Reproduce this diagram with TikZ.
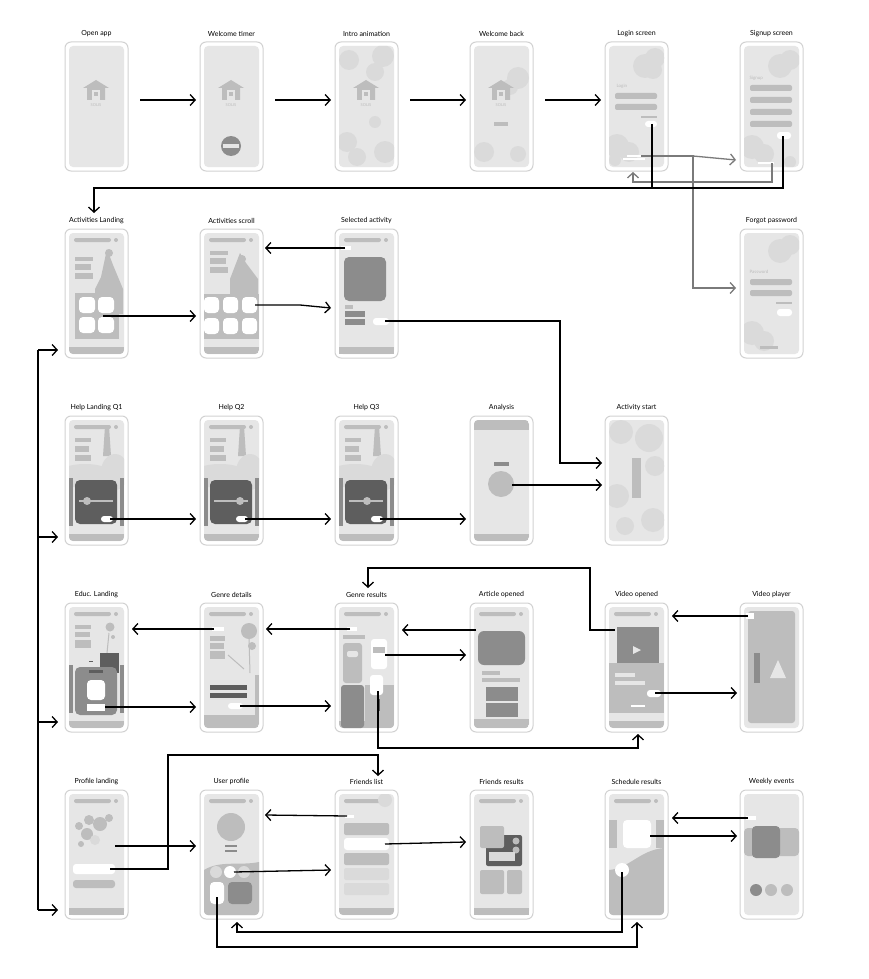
\documentclass[tikz,border=0pt]{standalone}
\usepackage{fontspec}
\setmainfont{Lato}
\usetikzlibrary{arrows.meta}
\definecolor{frm}{HTML}{D2D2D2}
\definecolor{scr}{HTML}{E6E6E6}
\definecolor{lt}{HTML}{DADADA}
\definecolor{md}{HTML}{BDBDBD}
\definecolor{dk}{HTML}{8C8C8C}
\definecolor{dd}{HTML}{5E5E5E}
\definecolor{ga}{HTML}{7A7A7A}
\tikzset{
 phone/.style={draw=frm,line width=1pt,fill=white,rounded corners=6pt,minimum width=63pt,minimum height=129pt,inner sep=0},
 ttl/.style={font=\fontsize{7}{8}\selectfont},
 arr/.style={draw=black,line width=1.3pt,-{Straight Barb[length=5pt,width=11pt,line width=1.3pt]}},
 garr/.style={draw=ga,line width=1.3pt,-{Straight Barb[length=5pt,width=11pt,line width=1.3pt]}},
 bar/.style={fill=md,rounded corners=2pt},
 wb/.style={fill=white,rounded corners=3pt},
}
\newcommand\phone[4]{%
 \node[phone] (#1) at ({#2+31.5},{#3+64.5}) {};
 \fill[scr,rounded corners=4pt] ({#2+4},{#3+4}) rectangle ({#2+59},{#3+125});
 \node[ttl] at ({#2+31.5},{#3-8}) {#4};}
\newcommand\scrclip{\clip[rounded corners=4pt] (4,4) rectangle (59,125);}
\newcommand\topbar{\fill[md,rounded corners=2pt] (9,9) rectangle (46,13); \fill[md] (51,11) circle (2);
 \fill[md] (4,118) rectangle (59,125);}
\newcommand\temple{\fill[md] (18,46)--(31,38)--(44,46)--(40,46)--(40,58)--(22,58)--(22,46)--cycle;
 \fill[scr] (27,48) rectangle (35,58); \fill[md] (29,50) rectangle (33,54);
 \node[font=\fontsize{4}{4}\selectfont,text=md] at (31,63) {SOLIS};}
\begin{document}
\begin{tikzpicture}[x=1pt,y=-1pt]
\useasboundingbox (0,0) rectangle (868,979);
\fill[white] (0,0) rectangle (868,979);
% ---------- Row 1
\phone{a1}{65}{42}{Open app}
\begin{scope}[shift={(65,42)}]\temple\end{scope}
\phone{a2}{200}{42}{Welcome timer}
\begin{scope}[shift={(200,42)}]\temple\fill[dk] (31,104) circle (10); \fill[scr] (23,102) rectangle (39,106);\end{scope}
\phone{a3}{335}{42}{Intro animation}
\begin{scope}[shift={(335,42)}]\scrclip
 \fill[lt] (14,18) circle (10); \fill[lt] (48,14) circle (11); \fill[lt] (40,30) circle (9);
 \fill[lt] (12,100) circle (10); \fill[lt] (22,115) circle (9); \fill[lt] (50,110) circle (11); \fill[lt] (40,80) circle (6);
 \temple\end{scope}
\phone{a4}{470}{42}{Welcome back}
\begin{scope}[shift={(470,42)}]\scrclip
 \fill[lt] (48,36) circle (11); \fill[lt] (40,45) circle (8); \fill[lt] (14,110) circle (10); \fill[lt] (48,112) circle (8);
 \temple \fill[md] (24,80) rectangle (38,84);\end{scope}
\phone{a5}{605}{42}{Login screen}
\begin{scope}[shift={(605,42)}]
 \coordinate (lgBtn) at (47,82); \coordinate (lgS) at (36,114);
 \scrclip
 \fill[lt] (40,24) circle (12); \fill[lt] (50,16) circle (10); \fill[lt] (48,28) circle (9);
 \fill[lt] (12,104) circle (12); \fill[lt] (24,110) circle (10); \fill[lt] (10,118) circle (6);
 \node[font=\fontsize{4.5}{5}\selectfont,text=md,anchor=west] at (8,44) {Login};
 \fill[bar] (10,51) rectangle (52,57); \fill[bar] (10,62) rectangle (52,68);
 \fill[md] (36,74) rectangle (52,76);
 \fill[wb] (40,79) rectangle (52,85);
 \fill[white] (22,113) rectangle (38,115); \fill[white] (18,116) rectangle (40,118);
\end{scope}
\phone{a6}{740}{42}{Signup screen}
\begin{scope}[shift={(740,42)}]
 \coordinate (sgBtn) at (43,94); \coordinate (sgL) at (32,121);
 \scrclip
 \fill[lt] (40,24) circle (12); \fill[lt] (50,18) circle (10);
 \fill[lt] (12,105) circle (12); \fill[lt] (24,112) circle (10); \fill[lt] (50,120) circle (6);
 \node[font=\fontsize{4.5}{5}\selectfont,text=md,anchor=west] at (6,36) {Signup};
 \fill[bar] (10,43) rectangle (52,49); \fill[bar] (10,55) rectangle (52,61);\fill[bar] (10,67) rectangle (52,73);\fill[bar] (10,79) rectangle (52,85);
 \fill[wb] (37,90) rectangle (51,97);
 \fill[white] (18,120) rectangle (34,122);
\end{scope}
% ---------- Row 2
\phone{b1}{65}{229}{Activities Landing}
\begin{scope}[shift={(65,229)}]\scrclip\topbar
 \fill[md] (10,28) rectangle (28,32);\fill[md] (10,35) rectangle (26,41);\fill[md] (10,44) rectangle (28,50);
 \fill[md] (42,20)--(48,36)--(58,60)--(58,85)--(30,85)--(30,60)--(36,48)--cycle; \fill[md] (44,24) circle (4);
 \fill[md] (10,64) rectangle (54,110);
 \fill[white,rounded corners=4pt] (14,68) rectangle (30,84);\fill[white,rounded corners=4pt] (33,68) rectangle (49,84);\fill[white,rounded corners=4pt] (14,88) rectangle (30,104);\fill[white,rounded corners=4pt] (33,88) rectangle (49,104);
\end{scope}
\phone{b2}{200}{229}{Activities scroll}
\begin{scope}[shift={(200,229)}]\scrclip\topbar
 \fill[md] (10,22) rectangle (28,26);\fill[md] (10,29) rectangle (26,35);\fill[md] (10,38) rectangle (28,44);
 \fill[md] (40,24)--(46,34)--(58,50)--(58,65)--(30,65)--(30,50)--cycle; \fill[md] (42,30) circle (4);
 \fill[md] (4,65) rectangle (59,110);
 \foreach \i in {0,1,2} \foreach \j in {0,1} \fill[white,rounded corners=4pt] ({4+\i*19},{68+\j*21}) rectangle ({19+\i*19},{84+\j*21});
 \coordinate (asS) at (55,76);
\end{scope}
\phone{b3}{335}{229}{Selected activity}
\begin{scope}[shift={(335,229)}]\topbar
 \fill[white] (6,17) rectangle (16,21);
 \fill[dk,rounded corners=5pt] (9,28) rectangle (51,72);
 \fill[md] (10,76) rectangle (18,80); \fill[dk] (10,82) rectangle (30,88); \fill[dk] (10,90) rectangle (30,96);
 \fill[wb] (38,89) rectangle (54,96);
 \coordinate (saB) at (10,19); \coordinate (saBtn) at (50,92);
\end{scope}
\phone{b6}{740}{229}{Forgot password}
\begin{scope}[shift={(740,229)}]\scrclip
 \fill[lt] (40,22) circle (12); \fill[lt] (50,16) circle (10);
 \fill[lt] (12,104) circle (12); \fill[lt] (24,112) circle (10);
 \node[font=\fontsize{4.5}{5}\selectfont,text=md,anchor=west] at (6,43) {Password};
 \fill[bar] (10,50) rectangle (52,56); \fill[bar] (10,61) rectangle (52,67);
 \fill[md] (36,73) rectangle (52,75); \fill[wb] (37,80) rectangle (52,87);
 \fill[md] (20,117) rectangle (38,120);
\end{scope}
% ---------- Row 3
\newcommand\help[1]{\topbar
 \fill[md] (10,22) rectangle (26,26);\fill[md] (10,30) rectangle (24,36);\fill[md] (10,39) rectangle (26,45);
 \fill[md] (40,10)--(44,10)--(46,40)--(38,40)--cycle; \fill[lt] (20,60) ellipse (30 and 12);\fill[lt] (50,56) ellipse (14 and 18);
 \fill[dk] (4,62) rectangle (8,110);\fill[dk] (55,62) rectangle (59,110);
 \fill[dd,rounded corners=5pt] (10,64) rectangle (52,108);
 \fill[md] (14,84) rectangle (48,86); \fill[md] (#1,85) circle (4);
 \fill[wb] (36,100) rectangle (48,106);}
\phone{c1}{65}{416}{Help Landing Q1}
\begin{scope}[shift={(65,416)}]\coordinate (h1) at (45,103);\scrclip\help{22}\end{scope}
\phone{c2}{200}{416}{Help Q2}
\begin{scope}[shift={(200,416)}]\coordinate (h2) at (45,103);\scrclip\help{40}\end{scope}
\phone{c3}{335}{416}{Help Q3}
\begin{scope}[shift={(335,416)}]\coordinate (h3) at (45,103);\scrclip\help{32}\end{scope}
\phone{c4}{470}{416}{Analysis}
\begin{scope}[shift={(470,416)}]\scrclip
 \fill[md] (4,4) rectangle (59,14); \fill[md] (4,118) rectangle (59,125);
 \fill[dk] (24,46) rectangle (39,50); \fill[md] (31,68) circle (13);
 \coordinate (anS) at (42,69);
\end{scope}
\phone{c5}{605}{416}{Activity start}
\begin{scope}[shift={(605,416)}]\scrclip
 \fill[lt] (16,16) circle (12); \fill[lt] (44,22) circle (14); \fill[lt] (50,50) circle (10);
 \fill[lt] (12,80) circle (12); \fill[lt] (48,104) circle (12); \fill[lt] (20,110) circle (9);
 \fill[md] (27,42) rectangle (36,82);
\end{scope}
% ---------- Row 4
\phone{d1}{65}{603}{Educ. Landing}
\begin{scope}[shift={(65,603)}]\coordinate (edS) at (40,104);\scrclip\topbar
 \fill[md] (10,22) rectangle (26,26);\fill[md] (10,29) rectangle (25,34);\fill[md] (10,37) rectangle (26,45);
 \draw[md,line width=1pt] (44,30)--(40,70); \fill[md] (45,24) circle (4.5); \fill[md] (48,34) circle (2);
 \fill[dd] (35,50) rectangle (54,70); \fill[dk] (4,62) rectangle (8,110); \fill[dk] (55,62) rectangle (59,110);
 \fill[dk,rounded corners=5pt] (10,64) rectangle (52,112); \fill[dd] (24,67) rectangle (38,70);
 \fill[white,rounded corners=4pt] (22,77) rectangle (40,97); \fill[white] (22,101) rectangle (40,108);
 \fill[dd] (24,58) rectangle (28,59);
\end{scope}
\phone{d2}{200}{603}{Genre details}
\begin{scope}[shift={(200,603)}]\scrclip\topbar
 \fill[white] (12,24) rectangle (24,28); \fill[md] (49,28) circle (8); \fill[md] (52,43) circle (4);
 \fill[md] (10,33) rectangle (25,38);\fill[md] (10,40) rectangle (24,46);\fill[md] (10,48) rectangle (25,56);
 \draw[md,line width=1pt] (28,52)--(44,66); \draw[md,line width=1pt] (49,36)--(50,70);
 \fill[md] (4,72) rectangle (59,118); \fill[scr] (4,72) rectangle (55,112);
 \fill[dd] (10,82) rectangle (47,87); \fill[dd] (10,90) rectangle (47,95); \fill[wb] (28,100) rectangle (43,106);
 \coordinate (gdB) at (14,26); \coordinate (gdS) at (40,103);
\end{scope}
\phone{d3}{335}{603}{Genre results}
\begin{scope}[shift={(335,603)}]\scrclip\topbar
 \fill[white] (12,24) rectangle (22,28); \fill[md] (8,32) rectangle (30,36);
 \fill[md,rounded corners=3pt] (8,40) rectangle (27,80); \fill[scr,rounded corners=2pt] (12,48) rectangle (23,54);
 \fill[white,rounded corners=3pt] (36,36) rectangle (52,66); \fill[md] (38,44) rectangle (50,50);
 \fill[dk,rounded corners=3pt] (6,82) rectangle (29,125); \fill[md] (30,82) rectangle (59,125);
 \fill[white,rounded corners=3pt] (35,72) rectangle (48,92); \draw[dd] (44,96)--(44,108);
 \coordinate (grB) at (15,26); \coordinate (grS) at (50,52); \coordinate (grD) at (43,88);
\end{scope}
\phone{d4}{470}{603}{Article opened}
\begin{scope}[shift={(470,603)}]\coordinate (arS) at (6,27);\scrclip\topbar
 \fill[dk,rounded corners=6pt] (8,28) rectangle (55,62); \fill[md] (12,68) rectangle (30,72);\fill[md] (12,75) rectangle (50,79);
 \fill[dk] (16,84) rectangle (48,98); \fill[dk] (16,100) rectangle (48,114);\fill[md] (4,116) rectangle (59,125);
\end{scope}
\phone{d5}{605}{603}{Video opened}
\begin{scope}[shift={(605,603)}]\scrclip\topbar
 \fill[dk] (12,24) rectangle (54,68); \fill[scr] (28,43)--(36,47)--(28,51)--cycle;
 \fill[md] (4,60) rectangle (59,110); \fill[scr] (10,70) rectangle (30,74); \fill[scr] (10,78) rectangle (40,82);
 \fill[wb] (42,87) rectangle (56,94); \fill[white] (26,102) rectangle (40,104);
 \coordinate (voS) at (50,90); \coordinate (voB) at (10,27);
\end{scope}
\phone{d6}{740}{603}{Video player}
\begin{scope}[shift={(740,603)}]\coordinate (vpS) at (8,13);
 \fill[md,rounded corners=3pt] (8,8) rectangle (55,120); \fill[white] (6,10) rectangle (14,16);
 \fill[dk] (14,50) rectangle (20,80); \fill[scr] (30,75)--(38,57)--(46,75)--cycle;
\end{scope}
% ---------- Row 5
\phone{e1}{65}{790}{Profile landing}
\begin{scope}[shift={(65,790)}]\topbar
 \fill[md] (14,36) circle (4); \fill[md] (24,30) circle (5); \fill[md] (35,34) circle (7); \fill[md] (44,28) circle (4); \fill[md] (22,44) circle (6);
 \fill[md] (16,54) circle (3); \fill[lt] (30,50) circle (5);
 \fill[white,rounded corners=3pt] (8,74) rectangle (50,84); \fill[md,rounded corners=3pt] (8,90) rectangle (50,98);
 \coordinate (plS) at (50,56); \coordinate (plT) at (45,79);
\end{scope}
\phone{e2}{200}{790}{User profile}
\begin{scope}[shift={(200,790)}]\coordinate (upC) at (34,82); \coordinate (upR) at (17,107);\scrclip\topbar
 \fill[md] (31,37) circle (14); \fill[dk] (25,55) rectangle (37,57);\fill[dk] (25,60) rectangle (37,62);
 \fill[md] (4,80)..controls (20,70) and (40,76)..(59,72) -- (59,125)--(4,125)--cycle;
 \fill[lt] (16,82) circle (6);\fill[white] (30,82) circle (6);\fill[lt] (44,82) circle (6);
 \fill[white,rounded corners=4pt] (10,92) rectangle (24,114); \fill[dk,rounded corners=4pt] (28,92) rectangle (52,114);
\end{scope}
\phone{e3}{335}{790}{Friends list}
\begin{scope}[shift={(335,790)}]\coordinate (flB) at (12,26); \coordinate (flS) at (50,54);\scrclip\topbar
 \fill[lt] (50,10) circle (7); \fill[white] (10,25) rectangle (19,28);
 \fill[bar] (9,33) rectangle (54,45); \fill[white,rounded corners=3pt] (9,48) rectangle (54,60);
 \fill[bar] (9,63) rectangle (54,75);\fill[bar,fill=lt] (9,78) rectangle (54,90);\fill[bar,fill=lt] (9,93) rectangle (54,105);
\end{scope}
\phone{e4}{470}{790}{Friends results}
\begin{scope}[shift={(470,790)}]\topbar
 \fill[dd,rounded corners=2pt] (16,45) rectangle (52,76);
 \fill[md,rounded corners=2pt] (10,36) rectangle (34,58);
 \fill[md] (46,51) circle (3.5); \fill[md] (46,60) circle (3.5); \fill[lt] (19,62) rectangle (45,71);
 \fill[md,rounded corners=2pt] (10,80) rectangle (34,104); \fill[md,rounded corners=2pt] (37,80) rectangle (52,104);
\end{scope}
\phone{e5}{605}{790}{Schedule results}
\begin{scope}[shift={(605,790)}]\coordinate (scS) at (45,46); \coordinate (scC) at (17,82);\scrclip\topbar
 \fill[md] (4,30) rectangle (12,58); \fill[md] (51,30) rectangle (59,58);
 \fill[white,rounded corners=4pt] (18,30) rectangle (46,58);
 \fill[md] (4,80)..controls (25,78) and (35,60)..(59,58)--(59,125)--(4,125)--cycle;
 \fill[white] (17,80) circle (7);
\end{scope}
\phone{e6}{740}{790}{Weekly events}
\begin{scope}[shift={(740,790)}]\coordinate (weS) at (8,28);\scrclip
 \fill[md,rounded corners=4pt] (4,38) rectangle (59,66); \fill[dk,rounded corners=4pt] (12,36) rectangle (40,68);
 \fill[white] (6,26) rectangle (16,30); \fill[dk] (16,100) circle (6);\fill[md] (31,100) circle (6);\fill[md] (47,100) circle (6);
\end{scope}
% ---------- connectors
\draw[arr] (140,100) -- (196,100);
\draw[arr] (275,100) -- (331,100);
\draw[arr] (410,100) -- (466,100);
\draw[arr] (545,100) -- (601,100);
\draw[garr] (lgS) -- (693,156) -- (736,160);
\draw[garr] (lgS) -| (693,288) -- (736,288);
\draw[garr] (sgL) -- (772,182) -- (633,182) -- (633,172);
\draw[line width=1.3pt] (lgBtn) -- (652,188);
\draw[arr] (sgBtn) -- (783,188) -- (94,188) -- (94,213);
\draw[arr] (saB) -- (265,248);
\draw[arr] (103,316) -- (196,316);
\draw[arr] (asS) -- (300,305) -- (331,308);
\draw[arr] (saBtn) -- (560,321) -- (560,463) -- (602,463);
\draw[line width=1.3pt] (38,350) -- (38,910);
\draw[arr] (38,350) -- (58,350);
\draw[arr] (38,537) -- (58,537);
\draw[arr] (38,722) -- (58,722);
\draw[arr] (38,910) -- (58,910);
\draw[arr] (h1) -- (196,519);
\draw[arr] (h2) -- (331,519);
\draw[arr] (h3) -- (466,519);
\draw[arr] (anS) -- (602,485);
\draw[arr] (gdB) -- (132,629);
\draw[arr] (grB) -- (266,629);
\draw[arr] (arS) -- (402,630);
\draw[arr] (edS) -- (196,707);
\draw[arr] (gdS) -- (331,706);
\draw[arr] (grS) -- (466,655);
\draw[arr] (voB) -- (590,630) -- (590,568) -- (368,568) -- (368,588);
\draw[arr] (vpS) -- (672,616);
\draw[arr] (voS) -- (737,693);
\draw[arr] (grD) -- (378,748) -- (638,748) -- (638,734);
\draw[arr] (plS) -- (196,846);
\draw[arr] (plT) -- (168,869) -- (168,755) -- (378,755) -- (378,776);
\draw[arr] (flB) -- (265,815);
\draw[arr] (upC) -- (331,870);
\draw[arr] (flS) -- (466,842);
\draw[arr] (weS) -- (672,818);
\draw[arr] (scS) -- (737,836);
\draw[arr] (scC) -- (622,932) -- (237,932) -- (237,922);
\draw[arr] (upR) -- (217,947) -- (637,947) -- (637,922);
\end{tikzpicture}
\end{document}
